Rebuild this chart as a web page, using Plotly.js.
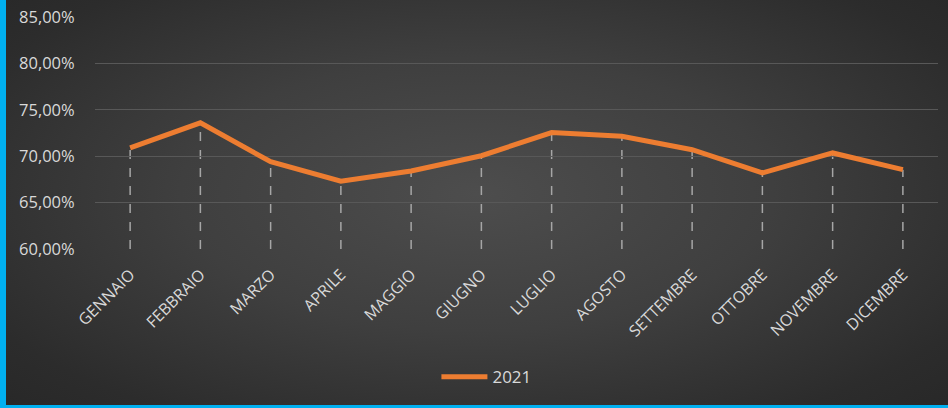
<!DOCTYPE html>
<html>
<head>
<meta charset="utf-8">
<script src="https://cdn.plot.ly/plotly-3.0.1.min.js"></script>
<style>
  html, body { margin: 0; padding: 0; background: #2a2a2a; }
  #wrap {
    position: relative; width: 948px; height: 408px; box-sizing: border-box;
    border-left: 6px solid #00b0f0; border-bottom: 3px solid #00b0f0;
    background: radial-gradient(ellipse 70% 75% at 50% 48%, #4d4d4d 0%, #3f3f3f 45%, #2c2c2c 85%, #282828 100%);
  }
  #chart { position: absolute; left: -6px; top: 0; width: 948px; height: 408px; }
</style>
</head>
<body>
<div id="wrap"><div id="chart"></div></div>
<script>
const months = ["GENNAIO","FEBBRAIO","MARZO","APRILE","MAGGIO","GIUGNO","LUGLIO","AGOSTO","SETTEMBRE","OTTOBRE","NOVEMBRE","DICEMBRE"];
const values2021 = [0.709, 0.736, 0.694, 0.673, 0.684, 0.7005, 0.7255, 0.7215, 0.707, 0.682, 0.7035, 0.6855];
const seriesName = "2021";
const yMin = 0.60, yMax = 0.85;

const dropLines = months.map((m, i) => ({
  type: "line", xref: "x", yref: "y",
  x0: m, x1: m, y0: yMin, y1: values2021[i],
  line: { color: "#a6a6a6", width: 1.5, dash: "dash" },
  layer: "below"
}));

const trace = {
  x: months, y: values2021, name: seriesName,
  type: "scatter", mode: "lines",
  line: { color: "#ED7D31", width: 5, shape: "linear" },
  hoverinfo: "skip"
};

const layout = {
  width: 948, height: 408,
  paper_bgcolor: "rgba(0,0,0,0)", plot_bgcolor: "rgba(0,0,0,0)",
  separators: ",.",
  margin: { l: 95, r: 10, t: 17, b: 158.5, pad: 0 },
  font: { family: "Open Sans, Noto Sans, sans-serif", color: "#d9d9d9", size: 14 },
  xaxis: {
    type: "category", range: [-0.5, months.length - 0.5],
    showgrid: false, zeroline: false, showline: false,
    ticks: "outside", ticklen: 9, tickcolor: "rgba(0,0,0,0)",
    tickangle: -45, tickfont: { size: 16, color: "#d9d9d9" },
    fixedrange: true
  },
  yaxis: {
    range: [yMin, yMax], dtick: 0.05, tick0: 0.6, tickformat: ".2%",
    showgrid: true, gridcolor: "#585858", gridwidth: 1.2, zeroline: false, showline: false,
    ticks: "outside", ticklen: 16, tickcolor: "rgba(0,0,0,0)",
    tickfont: { size: 16.5, color: "#d9d9d9" },
    fixedrange: true
  },
  showlegend: true,
  legend: {
    orientation: "h", x: 0.405, xanchor: "left", y: -0.553, yanchor: "middle",
    itemwidth: 46,
    font: { size: 17, color: "#d9d9d9" }, bgcolor: "rgba(0,0,0,0)"
  },
  shapes: dropLines
};

Plotly.newPlot("chart", [trace], layout, { displayModeBar: false, staticPlot: true });
</script>
</body>
</html>
